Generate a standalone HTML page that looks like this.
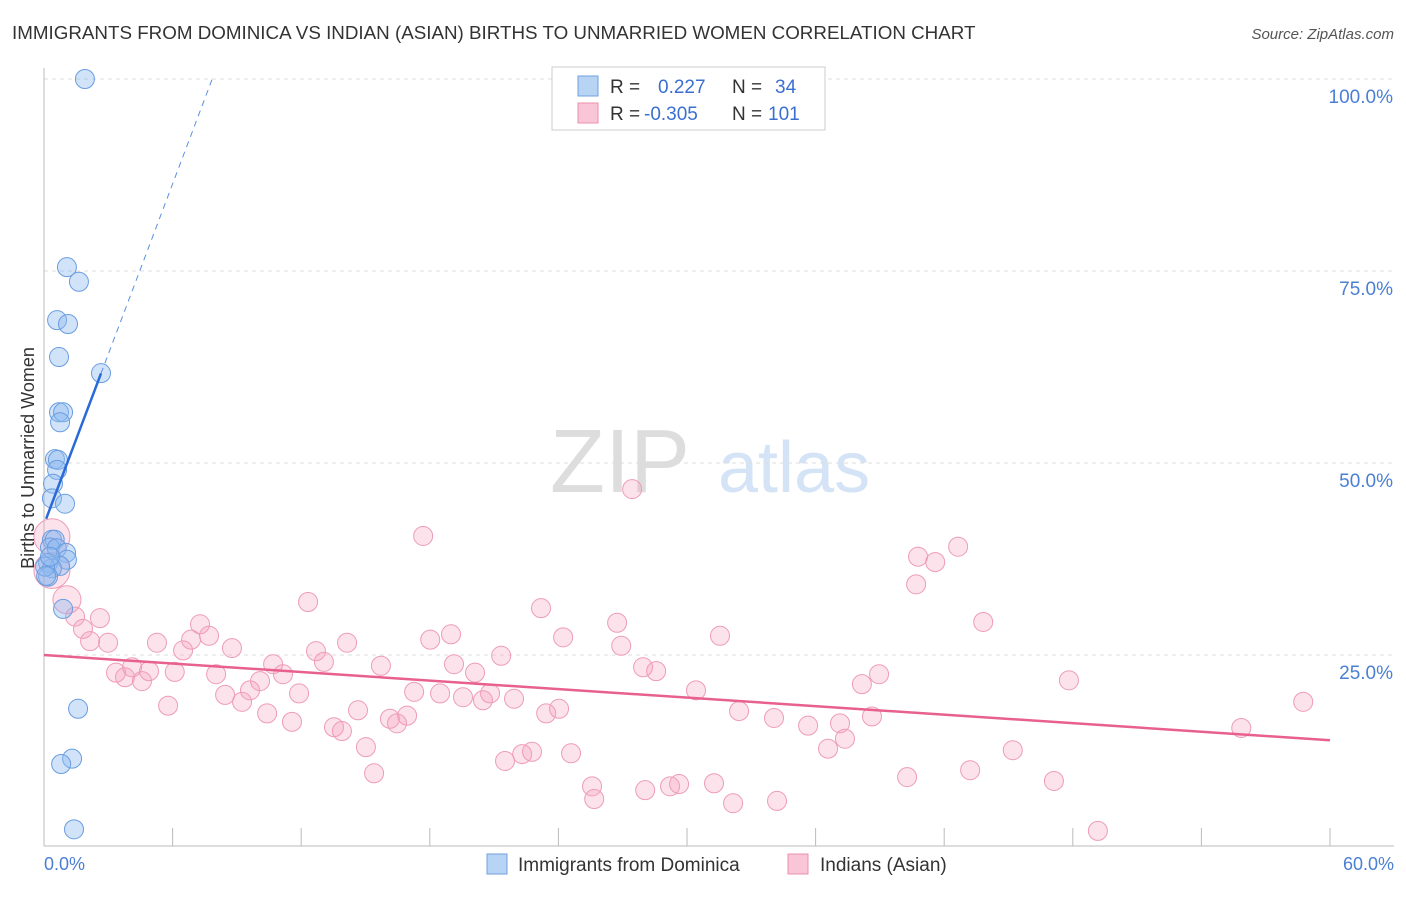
<!DOCTYPE html>
<html><head><meta charset="utf-8"><style>
body{margin:0;background:#fff;font-family:"Liberation Sans",sans-serif;}
svg text{font-family:"Liberation Sans",sans-serif;}
</style></head><body>
<svg id="chart" width="1406" height="892" xmlns="http://www.w3.org/2000/svg">
<text x="12" y="39" font-size="18.8" fill="#333">IMMIGRANTS FROM DOMINICA VS INDIAN (ASIAN) BIRTHS TO UNMARRIED WOMEN CORRELATION CHART</text>
<text x="1394" y="39" font-size="15" fill="#555" text-anchor="end" font-style="italic">Source: ZipAtlas.com</text>
<text x="690" y="492" font-size="90" fill="#ddd" text-anchor="end" font-family="Liberation Serif">ZIP</text>
<text x="718" y="492" font-size="72" fill="#d4e3f5">atlas</text>
<g id="grid"></g>
<g id="axes"></g>
<g id="points"></g>
<g id="lines"></g>
<text transform="translate(34,458) rotate(-90)" font-size="18" fill="#333" text-anchor="middle">Births to Unmarried Women</text>
<text x="44" y="870" font-size="18" fill="#4a7fd4">0.0%</text>
<text x="1394" y="870" font-size="18" fill="#4a7fd4" text-anchor="end">60.0%</text>
<g>
<rect x="552" y="67" width="273" height="63" fill="#fff" stroke="#ccc"/>
<rect x="578" y="76" width="20" height="20" fill="#b8d4f5" stroke="#6fa0e0"/>
<rect x="578" y="103" width="20" height="20" fill="#f8c6d6" stroke="#ec90ae"/>
<text x="610" y="93" font-size="19" fill="#333">R =</text>
<text x="658" y="93" font-size="19" fill="#3a6fd0">0.227</text>
<text x="732" y="93" font-size="19" fill="#333">N =</text>
<text x="775" y="93" font-size="19" fill="#3a6fd0">34</text>
<text x="610" y="120" font-size="19" fill="#333">R =</text>
<text x="644" y="120" font-size="19" fill="#3a6fd0">-0.305</text>
<text x="732" y="120" font-size="19" fill="#333">N =</text>
<text x="768" y="120" font-size="19" fill="#3a6fd0">101</text>
</g>
<g>
<rect x="487" y="854" width="20" height="20" fill="#b8d4f5" stroke="#6fa0e0"/>
<text x="518" y="871" font-size="19" fill="#333">Immigrants from Dominica</text>
<rect x="788" y="854" width="20" height="20" fill="#f8c6d6" stroke="#ec90ae"/>
<text x="820" y="871" font-size="19" fill="#333">Indians (Asian)</text>
</g>
</svg>
<script>
const yTicks=[25,50,75,100];
const yTickLabels=["25.0%","50.0%","75.0%","100.0%"];
const xTicks=[0,6,12,18,24,30,36,42,48,54,60];
const blueX=[1.91,1.07,1.63,0.61,1.12,0.7,2.66,0.7,0.89,0.75,0.51,0.65,0.61,0.42,0.37,0.98,0.37,0.5,0.28,0.6,1.03,1.07,0.19,0.75,0.37,0.19,0.89,1.59,1.31,0.8,1.4,0.05,0.28,0.1];
const blueY=[100,75.5,73.6,68.6,68.1,63.8,61.7,56.6,56.6,55.3,50.5,50.4,49.1,47.3,45.4,44.7,40,40,39,38.9,38.3,37.4,37,36.6,36.3,35.2,31,18,11.5,10.8,2.3,36.5,37.8,35.3];
const pinkX=[0.37,0.37,1.07,1.45,2.61,1.82,2.15,2.99,5.27,7.28,6.86,7.7,6.49,8.77,3.36,3.78,4.57,4.9,4.11,6.1,5.79,8.03,8.45,9.24,9.61,10.08,10.69,11.15,10.41,11.57,11.9,12.32,12.69,13.06,14.14,13.53,13.9,14.65,15.02,15.4,15.72,16.14,16.47,16.94,17.27,17.69,18.02,18.48,18.99,19.13,19.55,20.11,20.48,20.81,21.33,21.51,21.93,22.31,22.77,23.19,23.43,24.03,24.22,24.59,25.57,25.67,26.74,26.93,27.44,27.95,28.05,28.56,29.21,29.63,30.42,31.26,31.54,32.15,32.43,34.06,34.2,35.65,36.58,37.14,37.37,38.16,38.63,38.96,40.27,40.69,40.78,41.58,42.65,43.21,43.82,45.2,47.12,47.82,49.17,55.86,58.75];
const pinkY=[40.4,36,32.2,30,29.8,28.4,26.8,26.6,26.6,29,27,27.5,25.6,25.9,22.7,22.1,21.6,22.9,23.4,22.8,18.4,22.5,19.8,18.9,20.4,21.6,23.8,22.5,17.4,16.3,20,31.9,25.5,24.1,26.6,15.6,15.1,17.8,13,9.6,23.6,16.7,16.1,17.1,20.2,40.5,27,20,27.7,23.8,19.5,22.7,19.1,20,24.9,11.2,19.3,12.1,12.4,31.1,17.4,18,27.3,12.2,7.9,6.25,29.2,26.2,46.6,23.4,7.4,22.9,7.9,8.2,20.4,8.3,27.5,5.7,17.7,16.8,6,15.8,12.8,16.1,14.1,21.2,17,22.5,9.1,34.2,37.8,37.1,39.1,10,29.3,12.6,8.6,21.7,2.1,15.5,18.9];
const pinkR=[18,18,14];
const blueTrend=[42,7.39];
const pinkTrend=[25,-0.185];
const blueSolidEnd=2.66, blueDashEnd=7.84;

const NS="http://www.w3.org/2000/svg";
const xs=v=>44+v/60*1286;
const ys=v=>847-v/100*768;
function mk(tag,attrs,parent){const e=document.createElementNS(NS,tag);for(const k in attrs)e.setAttribute(k,attrs[k]);document.getElementById(parent).appendChild(e);return e;}

yTicks.forEach((t,i)=>{
  const l=mk('line',{x1:44,x2:1394,y1:ys(t),y2:ys(t),stroke:'#ddd','stroke-dasharray':'4,4'},'grid');
  
  
  const tx=mk('text',{x:1393,y:ys(t)+24,'font-size':19,fill:'#4a7fd4','text-anchor':'end'},'grid');
  tx.textContent=yTickLabels[i];
  
  
});
const ax=mk('line',{x1:44,x2:44,y1:68,y2:846,stroke:'#bbb'},'axes');


const bx=mk('line',{x1:44,x2:1394,y1:846,y2:846,stroke:'#bbb'},'axes');


xTicks.forEach(t=>{
  const l=mk('line',{x1:xs(t),x2:xs(t),y1:828,y2:846,stroke:'#bbb'},'axes');
  
  
});
pinkX.forEach((x,i)=>{
  const c=mk('circle',{cx:xs(x),cy:ys(pinkY[i]),r:pinkR[i]||9.5,fill:'rgba(244,160,188,0.3)',stroke:'#ee9cb8','stroke-width':1},'points');
  
  
});
blueX.forEach((x,i)=>{
  const c=mk('circle',{cx:xs(x),cy:ys(blueY[i]),r:9.5,fill:'rgba(140,185,240,0.4)',stroke:'#6a9de0','stroke-width':1},'points');
  
  
});
const pl=mk('line',{x1:xs(0),y1:ys(pinkTrend[0]),x2:xs(60),y2:ys(pinkTrend[0]+pinkTrend[1]*60),stroke:'#e8608e','stroke-width':2.5},'lines');


const bl=mk('line',{x1:xs(0.1),y1:ys(blueTrend[0]+blueTrend[1]*0.1),x2:xs(blueSolidEnd),y2:ys(blueTrend[0]+blueTrend[1]*blueSolidEnd),stroke:'#2a6ad8','stroke-width':2.5},'lines');


const bd=mk('line',{x1:xs(blueSolidEnd),y1:ys(blueTrend[0]+blueTrend[1]*blueSolidEnd),x2:xs(blueDashEnd),y2:ys(blueTrend[0]+blueTrend[1]*blueDashEnd),stroke:'#5a8fe0','stroke-width':1,'stroke-dasharray':'6,5'},'lines');


</script>
</body></html>
